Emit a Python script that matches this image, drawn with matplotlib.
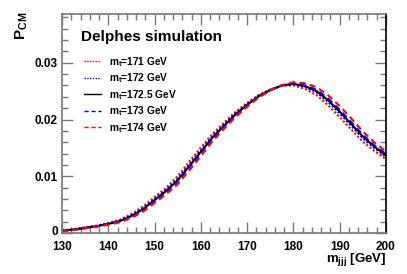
import matplotlib
matplotlib.use("Agg")
import matplotlib.pyplot as plt
from matplotlib.ticker import MultipleLocator, FixedLocator
from matplotlib.transforms import ScaledTranslation

plt.rcParams['font.family'] = ['Liberation Sans', 'DejaVu Sans']
plt.rcParams['font.weight'] = 'bold'
plt.rcParams['mathtext.fontset'] = 'custom'
plt.rcParams['mathtext.rm'] = 'Liberation Sans:bold'
plt.rcParams['mathtext.it'] = 'Liberation Sans:bold'
plt.rcParams['mathtext.bf'] = 'Liberation Sans:bold'

# m_jjj [GeV]
m_jjj = [130, 132.5, 135, 137.5, 140, 142.5, 145, 147.5, 150, 152.5, 155, 157.5,
         160, 162.5, 165, 167.5, 170, 172.5, 175, 177.5, 180, 182.5, 185, 187.5,
         190, 192.5, 195, 197.5, 200]

# P_CM (x 1e-4) for each top mass
p_171 = [4.7, 6.8, 10.0, 13.1, 17.5, 23.3, 33.5, 46.6, 63.2, 79.6, 100.0, 125.8,
         150.6, 174.6, 194.5, 213.6, 229.5, 243.3, 252.9, 259.4, 260.2, 254.1, 243.0, 225.2,
         204.3, 182.2, 161.1, 144.5, 130.2]
p_172 = [4.2, 6.3, 9.3, 12.4, 16.5, 21.8, 31.2, 43.6, 59.8, 75.9, 95.4, 120.6,
         145.6, 170.3, 190.9, 210.6, 227.2, 241.8, 252.4, 259.9, 262.2, 257.4, 247.8, 231.1,
         210.8, 188.8, 167.1, 149.6, 134.8]
p_1725 = [4.0, 6.0, 9.0, 12.0, 16.0, 21.0, 30.0, 42.0, 58.0, 74.0, 93.0, 118.0,
          143.0, 168.0, 189.0, 209.0, 226.0, 241.0, 252.0, 260.0, 263.0, 259.0, 250.0, 234.0,
          214.0, 192.0, 170.0, 152.0, 137.0]
p_173 = [3.8, 5.7, 8.7, 11.6, 15.5, 20.2, 28.8, 40.4, 56.2, 72.1, 90.6, 115.4,
         140.4, 165.7, 187.1, 207.4, 224.8, 240.2, 251.6, 260.1, 263.8, 260.6, 252.3, 236.9,
         217.2, 195.2, 172.9, 154.4, 139.2]
p_174 = [3.3, 5.2, 8.0, 10.9, 14.5, 18.7, 26.5, 37.4, 52.8, 68.4, 86.0, 110.2,
         135.4, 161.4, 183.5, 204.4, 222.5, 238.7, 251.1, 260.6, 265.8, 263.9, 257.0, 242.8,
         223.7, 201.8, 178.9, 159.5, 143.8]

labels = [r'm$_{\rm t}$=171 GeV', r'm$_{\rm t}$=172 GeV', r'm$_{\rm t}$=172.5 GeV',
          r'm$_{\rm t}$=173 GeV', r'm$_{\rm t}$=174 GeV']

fig = plt.figure(figsize=(4.07, 2.74), dpi=100)
ax = fig.add_axes([62 / 407, 1 - 233 / 274, 324 / 407, 219 / 274])

series = [p_171, p_172, p_1725, p_173, p_174]
colors = ['#ff0000', '#0000ff', 'black', '#0000ff', '#ff0000']
styles = [(0, (1, 1)), (0, (1, 1)), '-', (0, (3, 2)), (0, (3, 2))]
for vals, c, ls, lab in zip(series, colors, styles, labels):
    ax.plot(m_jjj, [v * 1e-4 for v in vals], color=c, linestyle=ls, lw=1.5, label=lab)

ax.set_xlim(130, 200)
ax.set_ylim(0, 0.0386)
ax.xaxis.set_major_locator(FixedLocator([130, 140, 150, 160, 170, 180, 190, 200]))
ax.xaxis.set_minor_locator(MultipleLocator(2))
ax.yaxis.set_major_locator(FixedLocator([0, 0.01, 0.02, 0.03]))
ax.yaxis.set_minor_locator(MultipleLocator(0.002))
ax.set_xticklabels(['130', '140', '150', '160', '170', '180', '190', '200'])
ax.set_yticklabels(['0', '0.01', '0.02', '0.03'])
ax.tick_params(which='both', direction='in', top=True, right=True, colors='#777777',
               labelcolor='black', labelsize=8.5)
ax.tick_params(which='major', length=8, width=1)
ax.tick_params(which='minor', length=4, width=1)
ax.tick_params(axis='x', pad=5.5)
ax.tick_params(axis='y', pad=3)
for s in ['left', 'bottom', 'top']:
    ax.spines[s].set_color('#777777')
ax.spines['right'].set_color('black')
for s in ax.spines.values():
    s.set_linewidth(1.2)
# lift the "0" label a little so it clears the "130" below it
zero = ax.get_yticklabels()[0]
zero.set_transform(zero.get_transform() + ScaledTranslation(0, 2.5 / 100, fig.dpi_scale_trans))

fig.text(386 / 407, 1 - 262 / 274, r'm$_{\rm jjj}$ [GeV]', ha='right', va='baseline',
         fontsize=9.5, fontweight='bold')
fig.text(14 / 407, 1 - 12 / 274, r'P$_{\rm CM}$', rotation=90, ha='left', va='top',
         fontsize=11, fontweight='bold')

fig.text(81 / 407, 1 - 41 / 274, 'Delphes simulation', ha='left', va='baseline',
         fontsize=11, fontweight='bold')
leg = ax.legend(loc='upper left', bbox_to_anchor=(84 / 407, 1 - 55 / 274),
                bbox_transform=fig.transFigure, frameon=False, fontsize=7.3,
                handlelength=1.7, handletextpad=0.75, labelspacing=0.26,
                borderpad=0, borderaxespad=0)
for h in leg.get_lines():
    h.set_linewidth(1.0)

fig.savefig('out.png', dpi=100)
